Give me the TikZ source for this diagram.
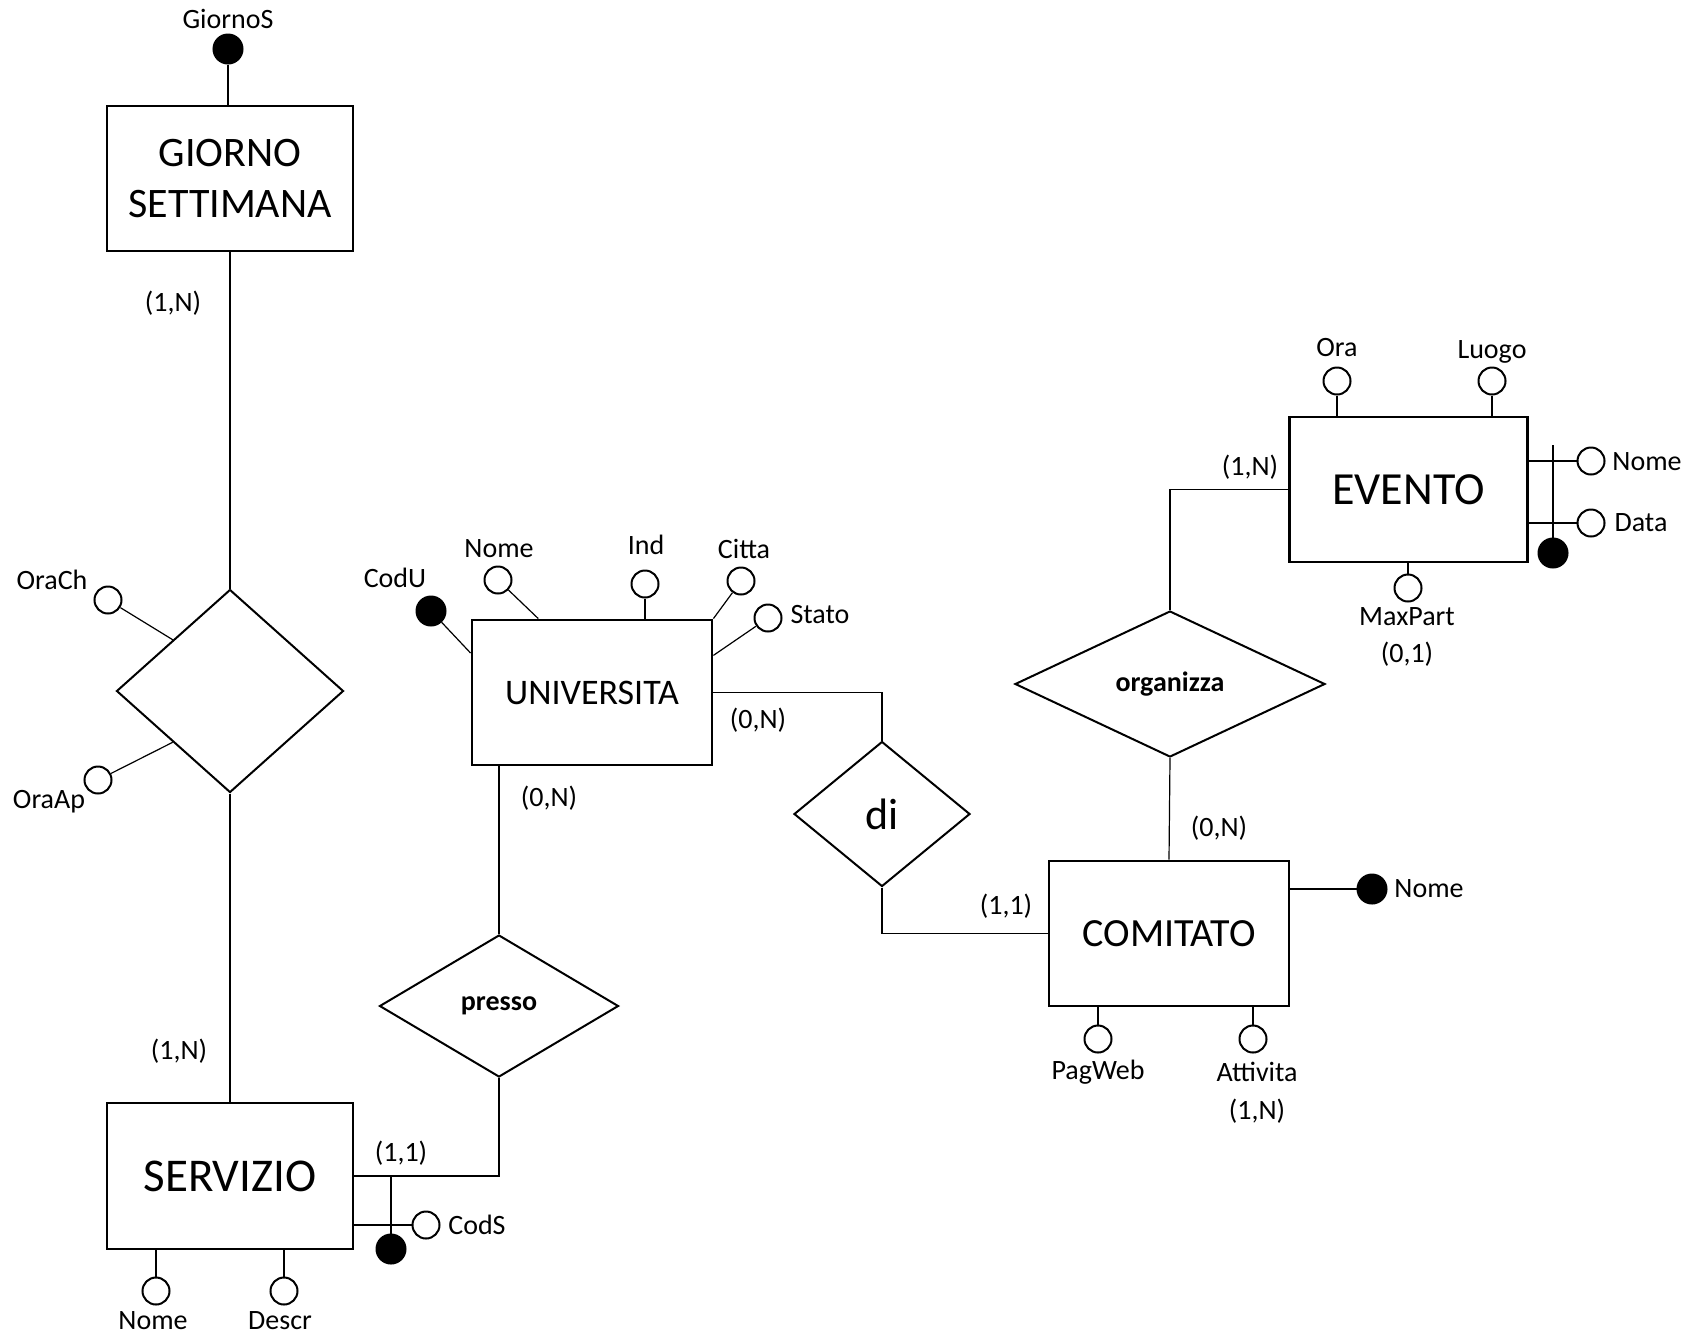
\documentclass[tikz,border=0pt]{standalone}
\usepackage{fontspec}
\setmainfont{Carlito}
\usetikzlibrary{shapes.geometric}

\tikzset{
  entity/.style={draw, line width=1.4pt, inner sep=0pt, align=center},
  relation/.style={draw, diamond, line width=1pt, inner sep=0pt},
  attr/.style={draw, circle, line width=1pt, minimum size=13.5pt, inner sep=0pt},
  keyattr/.style={attr, fill=black, minimum size=14.5pt},
  lbl/.style={inner sep=0pt, font=\fontsize{14}{16}\selectfont},
  conn/.style={line width=0.6pt},
}

\begin{document}
\begin{tikzpicture}[x=0.5pt, y=-0.5pt]
  \useasboundingbox (0,0) rectangle (1691,1335);

  % entities
  \node[entity, minimum width=123pt, minimum height=72.5pt, font=\fontsize{21}{25.5}\selectfont] (gs) at (230,178.5) {GIORNO\\SETTIMANA};
  \node[entity, minimum width=123pt, minimum height=73pt, font=\fontsize{23.5}{28}\selectfont] (serv) at (230,1176) {SERVIZIO};
  \node[entity, minimum width=120pt, minimum height=72.5pt, font=\fontsize{18}{22}\selectfont] (uni) at (592,692.5) {UNIVERSITA};
  \node[entity, minimum width=120pt, minimum height=72.5pt, font=\fontsize{20}{24}\selectfont] (com) at (1169,933.5) {COMITATO};
  \node[entity, minimum width=119pt, minimum height=72.5pt, font=\fontsize{23}{28}\selectfont] (ev) at (1408.5,489.5) {EVENTO};

  % relationships
  \node[relation, minimum width=113.5pt, minimum height=101.5pt] (orario) at (230,691) {};
  \node[relation, minimum width=119.5pt, minimum height=71pt, font=\fontsize{14}{16}\bfseries] (presso) at (499,1006) {presso};
  \node[relation, minimum width=88pt, minimum height=72.5pt, font=\fontsize{22}{26}\selectfont] (di) at (882,814) {di};
  \node[relation, minimum width=155pt, minimum height=73pt, font=\fontsize{14}{16}\bfseries] (org) at (1170,684) {organizza};

  % links
  \draw[conn] (gs.south) -- (orario.north)
              (orario.south) -- (serv.north);
  \draw[conn] (serv.east) -| (presso.south);
  \draw[conn] (presso.north) -- (presso.north |- uni.south);
  \draw[conn] (uni.east) -| (di.north);
  \draw[conn] (di.south) |- (com.west);
  \draw[conn] (com.north) -- (org.south);
  \draw[conn] (org.north) |- (ev.west);

  % attributes
  \node[keyattr] (gsK) at (228,49) {};
  \node[attr] (oraCh) at (108,600) {};
  \node[attr] (oraAp) at (98,780) {};
  \node[attr] (sNome) at (156,1291) {};
  \node[attr] (sDescr) at (284,1291) {};
  \node[attr] (sCod) at (426,1225) {};
  \node[keyattr] (sK) at (391,1249) {};
  \node[keyattr] (uCod) at (431,611) {};
  \node[attr] (uNome) at (498,580) {};
  \node[attr] (uInd) at (645,584) {};
  \node[attr] (uCitta) at (741,581) {};
  \node[attr] (uStato) at (768,618) {};
  \node[keyattr] (cNome) at (1372,889) {};
  \node[attr] (cPag) at (1098,1039) {};
  \node[attr] (cAtt) at (1253,1039) {};
  \node[attr] (eOra) at (1337,381) {};
  \node[attr] (eLuogo) at (1492,381) {};
  \node[attr] (eMax) at (1408,588) {};
  \node[attr] (eNome) at (1591,461) {};
  \node[attr] (eData) at (1591,523) {};
  \node[keyattr] (eK) at (1553,553) {};
  \coordinate (eKtop) at (1553,445);

  \path[conn] (gsK) edge (gsK |- gs.north)
              (oraCh) edge (orario.north west)
              (oraAp) edge (orario.south west)
              (sNome) edge (sNome |- serv.south)
              (sDescr) edge (sDescr |- serv.south)
              (sCod) edge (sCod -| serv.east)
              (sK) edge (sK |- serv.east)
              (uCod) edge (uni.162)
              (uNome) edge (uni.126)
              (uInd) edge (uInd |- uni.north)
              (uCitta) edge (uni.north east)
              (uStato) edge (uni.17)
              (cNome) edge (cNome -| com.east)
              (cPag) edge (cPag |- com.south)
              (cAtt) edge (cAtt |- com.south)
              (eOra) edge (eOra |- ev.north)
              (eLuogo) edge (eLuogo |- ev.north)
              (eMax) edge (eMax |- ev.south)
              (eNome) edge (eNome -| ev.east)
              (eData) edge (eData -| ev.east)
              (eK) edge (eKtop);

  % labels
  \node[lbl] (gsKl) at (228,19) {GiornoS};
  \node[lbl] (oraChl) at (52,580) {OraCh};
  \node[lbl] (oraApl) at (49,802) {OraAp};
  \node[lbl] (sNomel) at (153,1321) {Nome};
  \node[lbl] (sDescrl) at (280,1321) {Descr};
  \node[lbl] (sCodl) at (477,1225) {CodS};
  \node[lbl] (uCodl) at (395,578) {CodU};
  \node[lbl] (uNomel) at (499,549) {Nome};
  \node[lbl] (uIndl) at (646,545) {Ind};
  \node[lbl] (uCittal) at (744,549) {Citta};
  \node[lbl] (uStatol) at (820,614) {Stato};
  \node[lbl] (cNomel) at (1429,889) {Nome};
  \node[lbl] (cPagl) at (1098,1072) {PagWeb};
  \node[lbl] (cAttl) at (1257,1072) {Attivita};
  \node[lbl] (cAttc) at (1257,1111) {(1,N)};
  \node[lbl] (eOral) at (1337,348) {Ora};
  \node[lbl] (eLuogol) at (1492,352) {Luogo};
  \node[lbl] (eMaxl) at (1407,617) {MaxPart};
  \node[lbl] (eMaxc) at (1407,654) {(0,1)};
  \node[lbl] (eNomel) at (1647,462) {Nome};
  \node[lbl] (eDatal) at (1641,523) {Data};

  % cardinalities
  \node[lbl] (c1) at (173,303) {(1,N)};
  \node[lbl] (c2) at (179,1051) {(1,N)};
  \node[lbl] (c3) at (401,1153) {(1,1)};
  \node[lbl] (c4) at (549,798) {(0,N)};
  \node[lbl] (c5) at (758,720) {(0,N)};
  \node[lbl] (c6) at (1006,906) {(1,1)};
  \node[lbl] (c7) at (1219,828) {(0,N)};
  \node[lbl] (c8) at (1250,467) {(1,N)};
\end{tikzpicture}
\end{document}
